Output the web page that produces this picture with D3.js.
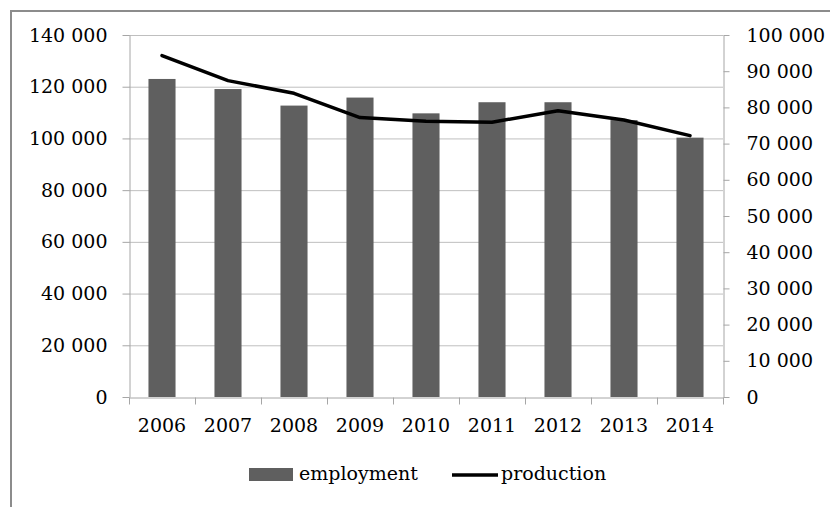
<!DOCTYPE html>
<html>
<head>
<meta charset="utf-8">
<script src="https://cdn.jsdelivr.net/npm/d3@7"></script>
<style>
	body { margin: 0; background: #fff; }
	svg { display: block; font-family: "DejaVu Serif", serif; }
	.labels text { font-family: "DejaVu Serif", serif; font-size: 19px; fill: #000; }
	.labels line, .labels path { stroke: #a6a6a6; }
</style>
</head>
<body>
<svg></svg>
<script>
const years = ['2006', '2007', '2008', '2009', '2010', '2011', '2012', '2013', '2014'];
const employment = [123000, 119100, 112700, 115800, 109700, 114000, 114000, 107100, 100300];
const production = [94300, 87400, 83900, 77200, 76200, 75900, 79100, 76500, 72200];
const leftTicks = [0, 20000, 40000, 60000, 80000, 100000, 120000, 140000];
const rightTicks = [0, 10000, 20000, 30000, 40000, 50000, 60000, 70000, 80000, 90000, 100000];

const width = 830;
const height = 507;
const margin = { top: 35, right: 107, bottom: 110, left: 129 };
const innerWidth = width - margin.left - margin.right;
const innerHeight = height - margin.top - margin.bottom;

const fmt = n => d3.format(',')(n).replace(/,/g, ' ');

const svg = d3.select('svg')
	.attr('width', width)
	.attr('height', height);

// outer frame (only top and left edges are visible)
svg.append('path')
	.attr('d', `M11,${height} V11 H${width}`)
	.attr('fill', 'none')
	.attr('stroke', '#8c8c8c')
	.attr('stroke-width', 2);

const xScale = d3.scaleBand()
	.domain(years)
	.range([0, innerWidth]);

const yLeft = d3.scaleLinear()
	.domain([0, 140000])
	.range([innerHeight, 0]);

const yRight = d3.scaleLinear()
	.domain([0, 100000])
	.range([innerHeight, 0]);

const g = svg.append('g')
	.attr('transform', `translate(${margin.left},${margin.top})`);

// gridlines
g.append('g')
	.selectAll('line').data(leftTicks.slice(1))
	.enter().append('line')
		.attr('x1', 0).attr('x2', innerWidth)
		.attr('y1', d => yLeft(d) + 0.5).attr('y2', d => yLeft(d) + 0.5)
		.attr('stroke', '#bfbfbf')
		.attr('stroke-width', 1);

// bars
const barWidth = xScale.bandwidth() * 0.41;
g.selectAll('rect.bar').data(employment)
	.enter().append('rect')
		.attr('class', 'bar')
		.attr('x', (d, i) => xScale(years[i]) + (xScale.bandwidth() - barWidth) / 2)
		.attr('y', d => yLeft(d))
		.attr('width', barWidth)
		.attr('height', d => innerHeight - yLeft(d))
		.attr('fill', '#5f5f5f');

// axes
const leftAxis = d3.axisLeft(yLeft)
	.tickValues(leftTicks)
	.tickFormat(fmt)
	.tickSize(7)
	.tickSizeOuter(0)
	.tickPadding(15);

g.append('g')
	.attr('class', 'labels')
	.attr('transform', 'translate(0.5,0)')
	.call(leftAxis);

const rightAxis = d3.axisRight(yRight)
	.tickValues(rightTicks)
	.tickFormat(fmt)
	.tickSize(6)
	.tickSizeOuter(0)
	.tickPadding(17);

g.append('g')
	.attr('class', 'labels')
	.attr('transform', `translate(${innerWidth + 0.5},0)`)
	.call(rightAxis);

const xAxis = d3.axisBottom(xScale)
	.tickSize(0)
	.tickPadding(21);

const xGroup = g.append('g')
	.attr('class', 'labels')
	.attr('transform', `translate(0,${innerHeight + 0.5})`)
	.call(xAxis);

// category boundary ticks
xGroup.selectAll('line.boundary')
	.data(d3.range(years.length + 1))
	.enter().append('line')
		.attr('class', 'boundary')
		.attr('x1', i => Math.round(i * xScale.step()) + 0.5)
		.attr('x2', i => Math.round(i * xScale.step()) + 0.5)
		.attr('y1', 0).attr('y2', 7);

// production line
const line = d3.line()
	.x((d, i) => xScale(years[i]) + xScale.bandwidth() / 2)
	.y(d => yRight(d));

g.append('path')
	.datum(production)
	.attr('d', line)
	.attr('fill', 'none')
	.attr('stroke', '#000')
	.attr('stroke-width', 3.5)
	.attr('stroke-linejoin', 'round')
	.attr('stroke-linecap', 'round');

// legend
const legend = svg.append('g').attr('font-size', 19);

legend.append('rect')
	.attr('x', 249).attr('y', 468)
	.attr('width', 44).attr('height', 13)
	.attr('fill', '#5f5f5f');

legend.append('text')
	.attr('x', 299).attr('y', 480)
	.text('employment');

legend.append('line')
	.attr('x1', 452).attr('x2', 498)
	.attr('y1', 475).attr('y2', 475)
	.attr('stroke', '#000')
	.attr('stroke-width', 3.5);

legend.append('text')
	.attr('x', 501).attr('y', 480)
	.text('production');
</script>
</body>
</html>
